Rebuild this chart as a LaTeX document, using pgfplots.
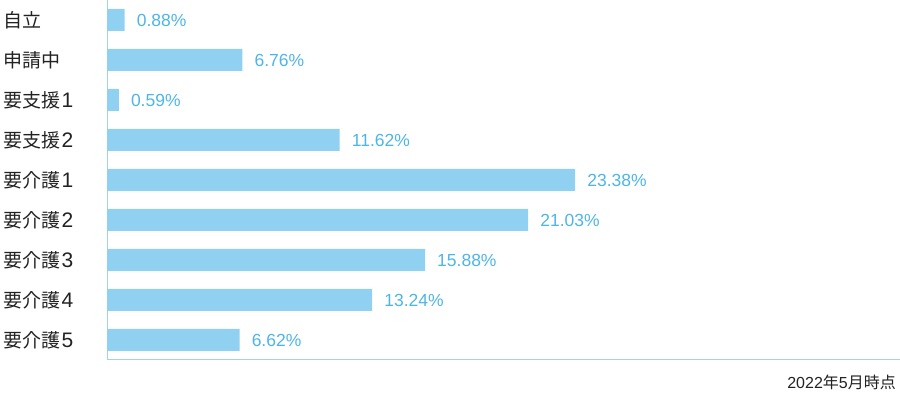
\documentclass[border=0pt]{standalone}
\usepackage{fontspec}
\setmainfont{Noto Sans CJK JP}
\newfontfamily\lat{Liberation Sans}
\usepackage{pgfplots}
\usepackage{pgfplotstable}
\pgfplotsset{compat=1.18}
\definecolor{barblue}{HTML}{90D1F1}
\definecolor{lblblue}{HTML}{4DB5E8}
\definecolor{axblue}{HTML}{A0D4EE}
\definecolor{txt}{HTML}{222222}
\newcommand{\dg}[1]{\hspace{1.5bp}{\lat\fontsize{21bp}{21bp}\selectfont #1}}
\pgfplotstableread[col sep=comma]{
idx,val,lbl
8,0.88,0.88
7,6.76,6.76
6,0.59,0.59
5,11.62,11.62
4,23.38,23.38
3,21.03,21.03
2,15.88,15.88
1,13.24,13.24
0,6.62,6.62
}\datatable
\begin{document}
\begin{tikzpicture}
\path[use as bounding box] (0,0) rectangle (900bp,393bp);
\begin{axis}[at={(107bp,34bp)}, anchor=south west, scale only axis,
  width=793bp, height=359bp,
  xbar, bar width=22bp, xmin=0, xmax=39.6, ymin=-0.475, ymax=8.5,
  axis x line=bottom, axis y line=left,
  axis line style={axblue, line width=1bp, -},
  xtick=\empty, ytick={0,...,8},
  yticklabels={要介護\dg{5},要介護\dg{4},要介護\dg{3},要介護\dg{2},要介護\dg{1},要支援\dg{2},要支援\dg{1},申請中,自立},
  major tick length=0pt,
  yticklabel style={anchor=west, inner sep=0pt, xshift=-104bp, text=txt, font=\fontsize{19bp}{19bp}\selectfont},
  nodes near coords={\pgfplotspointmeta\%}, point meta=explicit symbolic,
  nodes near coords style={anchor=west, inner sep=0pt, xshift=12bp, text=lblblue, font=\lat\fontsize{17.5bp}{17.5bp}\selectfont},
  clip=false]
\addplot[fill=barblue, draw=none] table[x=val, y=idx, meta=lbl] {\datatable};
\end{axis}
\node[anchor=base east, inner sep=0pt, text=txt, font=\fontsize{16bp}{16bp}\selectfont] at (896bp,5bp) {{\lat 2022}年{\lat 5}月時点};
\end{tikzpicture}
\end{document}
